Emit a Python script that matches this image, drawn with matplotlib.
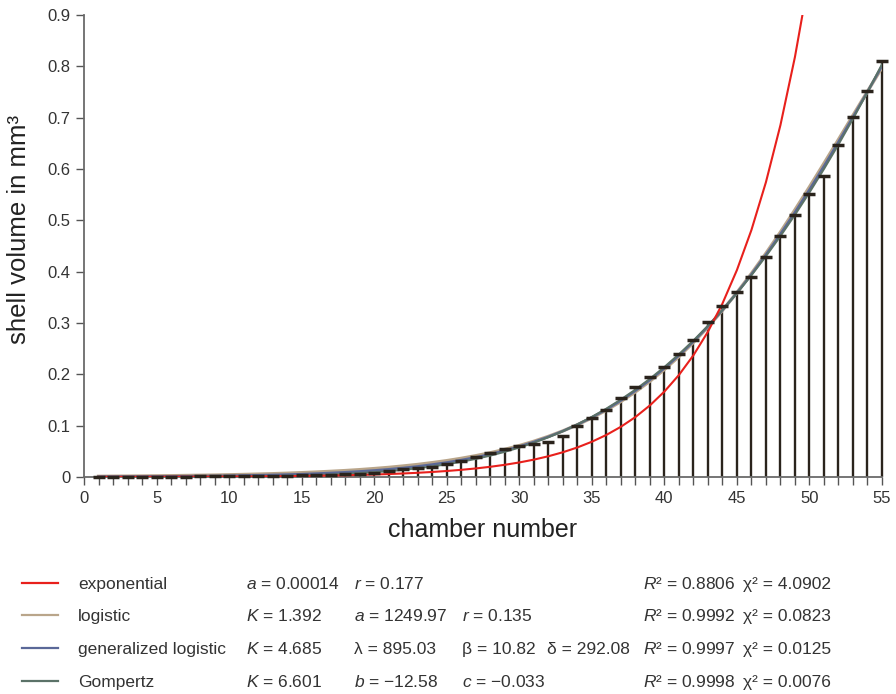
import matplotlib
matplotlib.use('Agg')
import matplotlib.pyplot as plt
from matplotlib.lines import Line2D

W, H = 896, 694

chambers = list(range(1, 56))
volume = [0.0003, 0.0004, 0.0005, 0.0006, 0.0007, 0.0008, 0.0009, 0.0010, 0.0012, 0.0014,
          0.0016, 0.0019, 0.0022, 0.0026, 0.0030, 0.0036, 0.0045, 0.005, 0.006, 0.008,
          0.012, 0.016, 0.017, 0.020, 0.026, 0.031, 0.039, 0.046, 0.055, 0.061,
          0.064, 0.069, 0.080, 0.099, 0.115, 0.130, 0.154, 0.176, 0.195, 0.215,
          0.240, 0.267, 0.302, 0.333, 0.360, 0.390, 0.429, 0.470, 0.510, 0.552,
          0.586, 0.647, 0.701, 0.751, 0.810]

# fitted curves, read at each chamber
exp_x = list(range(1, 51))
exp_fit = [0.00017, 0.00020, 0.00024, 0.00028, 0.00034, 0.00041, 0.00048, 0.00058, 0.00069, 0.00082,
           0.00098, 0.00117, 0.00140, 0.00167, 0.00199, 0.00238, 0.00284, 0.00339, 0.00404, 0.00483,
           0.00576, 0.00688, 0.00821, 0.00980, 0.01169, 0.01396, 0.01666, 0.01988, 0.02373, 0.02833,
           0.03381, 0.04036, 0.04818, 0.05751, 0.06865, 0.0819, 0.0978, 0.1167, 0.1394, 0.1664,
           0.1986, 0.2370, 0.2829, 0.3377, 0.4031, 0.4811, 0.5743, 0.6855, 0.8183, 0.9768]
logistic_fit = [0.0013, 0.0015, 0.0017, 0.0019, 0.0022, 0.0025, 0.0029, 0.0033, 0.0037, 0.0043,
                0.0049, 0.0056, 0.0064, 0.0073, 0.0084, 0.0096, 0.0110, 0.0125, 0.0143, 0.0164,
                0.0187, 0.0214, 0.0244, 0.0279, 0.0318, 0.0363, 0.0414, 0.0471, 0.0537, 0.0611,
                0.0695, 0.0790, 0.0897, 0.1017, 0.1152, 0.1302, 0.1471, 0.1658, 0.1865, 0.2095,
                0.2346, 0.2622, 0.2921, 0.3245, 0.3592, 0.3964, 0.4357, 0.4770, 0.5204, 0.5650,
                0.6108, 0.6574, 0.7044, 0.7512, 0.7976]
genlog_fit = [0.0007, 0.0008, 0.0009, 0.0010, 0.0012, 0.0014, 0.0016, 0.0018, 0.0021, 0.0025,
              0.0030, 0.0035, 0.0041, 0.0048, 0.0056, 0.0067, 0.0079, 0.0093, 0.0109, 0.0128,
              0.0151, 0.0177, 0.0207, 0.0243, 0.0283, 0.0330, 0.0383, 0.0444, 0.0514, 0.0593,
              0.0682, 0.0782, 0.0894, 0.1020, 0.1161, 0.1316, 0.1489, 0.1680, 0.1889, 0.2118,
              0.2368, 0.2639, 0.2933, 0.3249, 0.3587, 0.3947, 0.4329, 0.4732, 0.5156, 0.5597,
              0.6055, 0.6527, 0.7011, 0.7505, 0.8007]
gompertz_fit = [0.00003, 0.00005, 0.00007, 0.00011, 0.00015, 0.00021, 0.00029, 0.00041, 0.00055, 0.00075,
                0.0010, 0.0013, 0.0017, 0.0023, 0.0029, 0.0037, 0.0047, 0.0060, 0.0075, 0.0093,
                0.0114, 0.0140, 0.0171, 0.0207, 0.0248, 0.0297, 0.0353, 0.0417, 0.0491, 0.0574,
                0.0668, 0.0774, 0.0892, 0.1024, 0.1170, 0.1331, 0.1508, 0.1701, 0.1912, 0.2141,
                0.2390, 0.2657, 0.2944, 0.3253, 0.3581, 0.3931, 0.4302, 0.4694, 0.5108, 0.5544,
                0.6001, 0.6479, 0.6979, 0.7499, 0.8039]

models = ['exponential', 'logistic', 'generalized logistic', 'Gompertz']
colors = ['#e8201c', '#b9a58a', '#5a6898', '#5b7268']
params = [
    ['$a$ = 0.00014', '$r$ = 0.177', '', ''],
    ['$K$ = 1.392', '$a$ = 1249.97', '$r$ = 0.135', ''],
    ['$K$ = 4.685', '\u03bb = 895.03', '\u03b2 = 10.82', '\u03b4 = 292.08'],
    ['$K$ = 6.601', '$b$ = \u221212.58', '$c$ = \u22120.033', ''],
]
r2 = ['0.8806', '0.9992', '0.9997', '0.9998']
chi2 = ['4.0902', '0.0823', '0.0125', '0.0076']

xticks = [0, 5, 10, 15, 20, 25, 30, 35, 40, 45, 50, 55]
yticks = [0, 0.1, 0.2, 0.3, 0.4, 0.5, 0.6, 0.7, 0.8, 0.9]
ytick_labels = ['0', '0.1', '0.2', '0.3', '0.4', '0.5', '0.6', '0.7', '0.8', '0.9']

plt.rcParams['font.family'] = ['Liberation Sans', 'DejaVu Sans']
plt.rcParams['mathtext.fontset'] = 'custom'
plt.rcParams['mathtext.rm'] = 'Liberation Sans'
plt.rcParams['mathtext.it'] = 'Liberation Sans:italic'

fig = plt.figure(figsize=(W / 100, H / 100), dpi=100)
ax = fig.add_axes([84 / W, 1 - 477 / H, (882 - 84) / W, (477 - 15) / H])

bar_col = '#2a231c'
ax.vlines(chambers, 0, volume, color=bar_col, lw=1.7, zorder=2, clip_on=False)

ax.plot(chambers, logistic_fit, color=colors[1], lw=2.4, zorder=3)
ax.plot(chambers, genlog_fit, color=colors[2], lw=1.8, zorder=3)
ax.plot(chambers, gompertz_fit, color=colors[3], lw=1.5, zorder=3)
ax.plot(exp_x, exp_fit, color=colors[0], lw=1.5, zorder=3)

ax.plot(chambers, volume, ls='none', marker='_', ms=8.5, mew=2.5, color=bar_col,
        zorder=4, clip_on=False)

ax.set_xlim(0, 55)
ax.set_ylim(0, 0.9)
for s in ['top', 'right']:
    ax.spines[s].set_visible(False)
for s in ['left', 'bottom']:
    ax.spines[s].set_color('#6a6a6a')
    ax.spines[s].set_linewidth(1.3)

ax.set_xticks(xticks)
ax.set_xticks(chambers, minor=True)
ax.set_yticks(yticks)
ax.set_yticklabels(ytick_labels)
ax.tick_params(which='both', direction='out', length=6, width=1.0, color='#555555',
               labelsize=12, labelcolor='#333333')
ax.tick_params(axis='x', pad=4)

ax.set_xlabel('chamber number', fontsize=18, color='#222222', labelpad=9)
ax.set_ylabel('shell volume in mm\u00b3', fontsize=18.5, color='#222222')
ax.yaxis.set_label_coords(-0.067, 0.535)

# legend block with fit parameters
rows_y = [583, 615, 648, 681]
col_x = [246, 354, 462, 547]
fs = 12.5
for i, name in enumerate(models):
    yl = 1 - rows_y[i] / H
    yb = 1 - (rows_y[i] + 6) / H
    fig.add_artist(Line2D([22 / W, 58 / W], [yl, yl], color=colors[i], lw=1.6))
    fig.text(78 / W, yb, name, fontsize=fs, color='#333333', va='baseline')
    for j, p in enumerate(params[i]):
        if p:
            fig.text(col_x[j] / W, yb, p, fontsize=fs, color='#333333', va='baseline')
    fig.text(643 / W, yb, '$R$\u00b2 = ' + r2[i], fontsize=fs, color='#333333', va='baseline')
    fig.text(743 / W, yb, '\u03c7\u00b2 = ' + chi2[i], fontsize=fs, color='#333333', va='baseline')

fig.savefig('out.png', dpi=100)
